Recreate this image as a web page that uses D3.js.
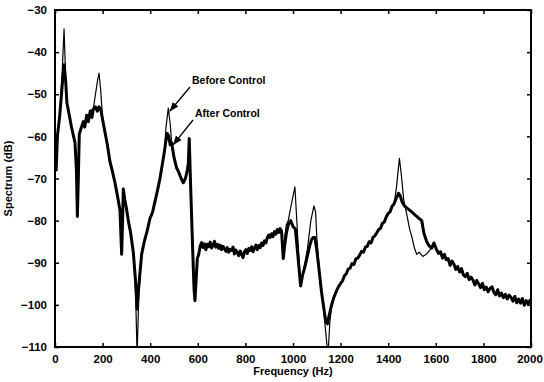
<!DOCTYPE html>
<html>
<head>
<meta charset="utf-8">
<script src="https://cdn.jsdelivr.net/npm/d3@7"></script>
<style>
body { margin: 0; background: #fff; }
text { font-family: "Liberation Sans", Arial, sans-serif; font-weight: bold; fill: #000; }
</style>
</head>
<body>
<div id="chart"></div>
<script>
//chart values
var xTicks = [0, 200, 400, 600, 800, 1000, 1200, 1400, 1600, 1800, 2000];
var yTicks = [-110, -100, -90, -80, -70, -60, -50, -40, -30];

//after control spectrum [Hz, dB]
var afterControl = [
    [0, -64], [5, -68], [10, -60], [20, -55], [30, -48], [38, -43], [45, -47], [50, -52],
    [60, -55], [70, -58], [84, -61.5], [90, -68], [94, -79], [98, -70], [102, -59.5],
    [110, -58], [119, -56.5], [125, -57.8], [133, -55], [140, -56.5], [148, -54], [155, -55.5],
    [161, -53.5], [170, -53], [178, -54], [185, -53], [192, -53.5], [200, -56], [210, -59],
    [220, -62], [231, -66], [240, -68], [252, -71], [262, -74], [273, -77.5], [280, -88],
    [284, -80], [287, -72.5], [293, -75], [300, -77], [308, -80], [318, -83], [329, -87.5],
    [338, -94], [345, -101], [350, -97], [356, -93], [364, -88], [375, -85], [387, -82.5],
    [399, -79.5], [410, -78], [420, -75.5], [430, -73], [441, -70], [450, -67], [460, -63.5],
    [466, -61], [472, -59.3], [478, -60], [484, -62], [490, -61.5], [500, -65], [511, -67.5],
    [520, -68.5], [530, -70], [539, -71], [548, -70], [556, -68], [560, -66.5], [564, -60.5],
    [570, -72], [578, -86], [584, -96], [588, -99], [592, -95], [598, -89], [604, -88],
    [610, -86], [616, -85.2], [622, -86.4], [628, -85.5], [634, -86.9], [640, -85.6],
    [646, -86.2], [652, -85.1], [658, -86.5], [664, -85.9], [670, -84.9], [676, -86.3],
    [682, -85.6], [688, -86.6], [694, -85.8], [700, -86.9], [706, -86.1], [712, -86.7],
    [718, -87.3], [724, -86.4], [730, -87.5], [736, -86.8], [742, -87.1], [748, -86.3],
    [754, -87.9], [760, -87.0], [766, -87.6], [772, -88.3], [778, -87.2], [784, -88.0],
    [790, -88.8], [796, -87.4], [802, -86.9], [808, -87.8], [814, -86.6], [820, -87.1],
    [826, -86.2], [832, -87.4], [838, -86.5], [844, -85.8], [850, -86.9], [856, -85.9],
    [862, -86.4], [868, -85.3], [874, -85.9], [880, -84.8], [886, -85.3], [892, -84.1],
    [898, -83.4], [904, -84.0], [910, -83.1], [916, -83.8], [922, -82.6], [928, -83.2],
    [934, -82.1], [940, -82.8], [946, -81.9], [952, -82.5],
    [959, -89], [965, -86], [972, -83], [980, -81], [990, -80], [1001, -81.5], [1010, -82],
    [1020, -88], [1032, -95.5], [1040, -93], [1050, -91], [1060, -88.5], [1070, -86],
    [1078, -84.5], [1085, -84], [1092, -84], [1100, -87], [1110, -92], [1120, -97],
    [1130, -101], [1138, -104], [1145, -104.5], [1150, -103], [1160, -100.5], [1170, -98.5],
    [1184, -96.5], [1192, -95.6], [1200, -94.9], [1208, -94.3], [1216, -93.1], [1224, -92.6],
    [1232, -91.5], [1240, -91.3], [1248, -90.2], [1256, -90.4], [1264, -89.1], [1272, -88.9],
    [1280, -88.2], [1288, -87.3], [1296, -87.5], [1304, -86.3], [1312, -86.1], [1320, -85.0],
    [1328, -85.3], [1336, -84.0], [1344, -83.6], [1352, -82.9], [1360, -82.1], [1368, -81.8],
    [1376, -80.6], [1384, -80.3], [1392, -79.1], [1400, -78.3], [1408, -77.9], [1416, -76.6],
    [1424, -76.1], [1432, -74.9], [1438, -74.2], [1443, -73.5],
    [1450, -74], [1458, -75.5], [1468, -76.5], [1478, -77], [1490, -77.5], [1500, -78],
    [1510, -78.5], [1520, -79], [1530, -79.5], [1541, -80], [1550, -83], [1562, -85],
    [1572, -86], [1583, -86.5], [1592, -85.3],
    [1604, -87.0], [1612, -87.8], [1620, -87.4], [1628, -88.9], [1636, -88.0], [1644, -89.3],
    [1652, -89.0], [1660, -90.6], [1668, -89.6], [1676, -90.3], [1684, -91.6], [1692, -90.9],
    [1700, -92.2], [1708, -91.4], [1716, -92.9], [1724, -93.3], [1732, -92.5], [1740, -94.0],
    [1748, -93.4], [1756, -94.1], [1764, -95.3], [1772, -94.2], [1780, -95.0], [1788, -95.9],
    [1796, -94.9], [1804, -96.4], [1812, -95.8], [1820, -96.9], [1828, -96.1], [1836, -95.7],
    [1844, -97.0], [1852, -97.6], [1860, -96.4], [1868, -97.9], [1876, -97.2], [1884, -98.3],
    [1892, -97.5], [1900, -98.6], [1908, -97.7], [1916, -98.2], [1924, -99.1], [1932, -98.0],
    [1940, -99.5], [1948, -98.6], [1956, -99.6], [1964, -98.5], [1972, -100.1], [1980, -99.0],
    [1988, -99.8], [1996, -98.9], [2000, -99.6]
];

//ranges where the before control line leaves the after control line
var beforeRanges = [[25, 48], [155, 198], [336, 356], [462, 489], [950, 1165], [1420, 1590]];

//before control points inside those ranges [Hz, dB]
var beforeOnly = [
    [30, -45], [38, -34.5], [45, -46],
    [161, -53.5], [170, -50], [178, -47], [185, -45], [192, -49],
    [338, -96], [345, -112], [352, -98],
    [466, -58], [476, -53.3], [484, -57],
    [952, -83], [959, -88], [965, -84], [972, -81], [980, -80], [990, -77], [1008, -72],
    [1020, -84], [1032, -95.5], [1040, -93], [1060, -87], [1075, -80], [1088, -76.5],
    [1095, -78], [1100, -84], [1110, -91], [1120, -97], [1130, -102], [1140, -108],
    [1147, -112], [1155, -104], [1162, -100.5],
    [1425, -76], [1435, -72], [1447, -65.2], [1455, -69], [1465, -75], [1478, -78.5],
    [1490, -82], [1500, -84], [1510, -86.5], [1520, -88], [1530, -87.5], [1545, -88.5],
    [1560, -88], [1575, -87], [1585, -86]
];

//set svg and chart dimensions
var svgWidth = 544;
var svgHeight = 382;
var margin = { top: 10, right: 13, bottom: 35, left: 55 };
var width = svgWidth - margin.left - margin.right;
var height = svgHeight - margin.top - margin.bottom;

var svg = d3.select("#chart").append("svg")
    .attr("width", svgWidth)
    .attr("height", svgHeight);

var chartGroup = svg.append("g")
    .attr("transform", `translate(${margin.left}, ${margin.top})`);

var xScale = d3.scaleLinear().domain([0, 2000]).range([0, width]);
var yScale = d3.scaleLinear().domain([-110, -30]).range([height, 0]);

//build before control series from shared points plus its own
function inRanges(f) {
    return beforeRanges.some(r => f >= r[0] && f <= r[1]);
}
var beforeControl = afterControl.filter(p => !inRanges(p[0]))
    .concat(beforeOnly)
    .sort((a, b) => a[0] - b[0]);

//clip to plot area
var defs = svg.append("defs");
defs.append("clipPath").attr("id", "plotClip")
    .append("rect").attr("width", width).attr("height", height);

var line = d3.line()
    .x(d => xScale(d[0]))
    .y(d => yScale(d[1]));

var lines = chartGroup.append("g").attr("clip-path", "url(#plotClip)");

lines.append("path")
    .datum(beforeControl)
    .attr("fill", "none")
    .attr("stroke", "#000")
    .attr("stroke-width", 1.2)
    .attr("stroke-linejoin", "round")
    .attr("d", line);

lines.append("path")
    .datum(afterControl)
    .attr("fill", "none")
    .attr("stroke", "#000")
    .attr("stroke-width", 3)
    .attr("stroke-linejoin", "round")
    .attr("d", line);

//axes with ticks pointing inward on all sides
var bottomAxis = d3.axisBottom(xScale).tickValues(xTicks).tickFormat(d3.format("d"))
    .tickSizeInner(-4).tickSizeOuter(0).tickPadding(8);
var topAxis = d3.axisTop(xScale).tickValues(xTicks).tickSizeInner(-4).tickSizeOuter(0).tickFormat("");
var leftAxis = d3.axisLeft(yScale).tickValues(yTicks).tickFormat(d3.format("d"))
    .tickSizeInner(-4).tickSizeOuter(0).tickPadding(8);
var rightAxis = d3.axisRight(yScale).tickValues(yTicks).tickSizeInner(-4).tickSizeOuter(0).tickFormat("");

function styleAxis(g) {
    g.selectAll("path").remove();
    g.selectAll("line").attr("stroke", "#000").attr("stroke-width", 1.5);
    g.selectAll("text").attr("font-size", "11.5px").attr("font-family", null);
}

var xAxisGroup = chartGroup.append("g").attr("transform", `translate(0, ${height})`).call(bottomAxis).call(styleAxis);
chartGroup.append("g").call(topAxis).call(styleAxis);
chartGroup.append("g").call(leftAxis).call(styleAxis);
chartGroup.append("g").attr("transform", `translate(${width}, 0)`).call(rightAxis).call(styleAxis);

//keep the last x label inside the window
xAxisGroup.selectAll("text").filter(d => d === 2000).attr("dx", -1.5);

//frame
chartGroup.append("rect")
    .attr("width", width)
    .attr("height", height)
    .attr("fill", "none")
    .attr("stroke", "#000")
    .attr("stroke-width", 2);

//axis labels
chartGroup.append("text")
    .attr("x", width / 2)
    .attr("y", height + 28)
    .attr("text-anchor", "middle")
    .attr("font-size", "11px")
    .text("Frequency (Hz)");

chartGroup.append("text")
    .attr("transform", `translate(${-43}, ${height / 2}) rotate(-90)`)
    .attr("text-anchor", "middle")
    .attr("font-size", "11px")
    .text("Spectrum (dB)");

//annotations with arrows
defs.append("marker")
    .attr("id", "arrowHead")
    .attr("viewBox", "0 0 10 10")
    .attr("refX", 10).attr("refY", 5)
    .attr("markerWidth", 7).attr("markerHeight", 7)
    .attr("orient", "auto")
    .append("path").attr("d", "M0,1 L10,5 L0,9 Z").attr("fill", "#000");

var notes = [
    { text: "Before Control", point: [478, -53.8], tx: 137, ty: 74 },
    { text: "After Control", point: [492, -61.8], tx: 140, ty: 107 }
];

notes.forEach(function(n) {
    chartGroup.append("line")
        .attr("x1", n.tx - 2)
        .attr("y1", n.ty + 3)
        .attr("x2", xScale(n.point[0]) + 1)
        .attr("y2", yScale(n.point[1]) + 1)
        .attr("stroke", "#000")
        .attr("stroke-width", 1.3)
        .attr("marker-end", "url(#arrowHead)");
    chartGroup.append("text")
        .attr("x", n.tx)
        .attr("y", n.ty)
        .attr("font-size", "10.5px")
        .text(n.text);
});
</script>
</body>
</html>
